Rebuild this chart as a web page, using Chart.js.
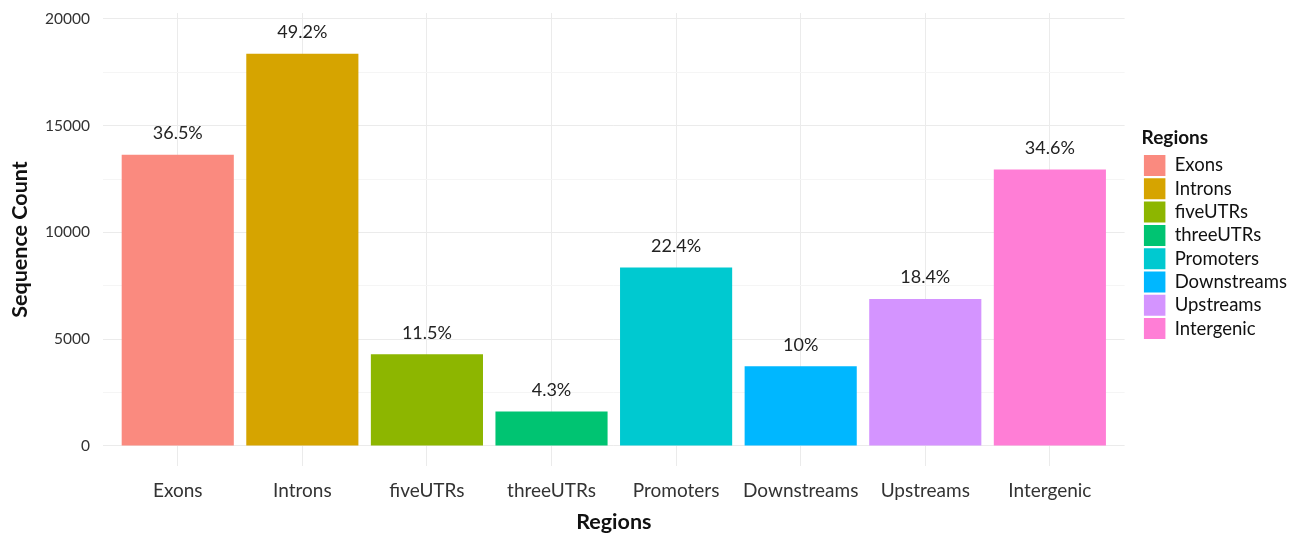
<!DOCTYPE html>
<html>
<head>
<meta charset="utf-8">
<script src="https://cdn.jsdelivr.net/npm/chart.js@4/dist/chart.umd.min.js"></script>
<style>
  html, body { margin: 0; padding: 0; background: #fff; }
  #wrap { width: 1297px; height: 535px; }
</style>
</head>
<body>
<div id="wrap"><canvas id="regions-chart" width="1297" height="535"></canvas></div>
<script>
const categories = ["Exons", "Introns", "fiveUTRs", "threeUTRs", "Promoters", "Downstreams", "Upstreams", "Intergenic"];
const counts = [13640, 18370, 4300, 1610, 8360, 3730, 6890, 12950];
const percents = ["36.5", "49.2", "11.5", "4.3", "22.4", "10", "18.4", "34.6"];
const colors = ["#FA8A7F", "#D6A400", "#8DB600", "#00C472", "#00C9D0", "#00B7FF", "#D494FF", "#FF7ED6"];
const yTicks = [0, 2500, 5000, 7500, 10000, 12500, 15000, 17500, 20000];

const FONT = "Lato, 'Open Sans', sans-serif";

// percentage text above each bar
const barLabels = {
  id: "barLabels",
  afterDatasetsDraw(chart) {
    const { ctx } = chart;
    const meta = chart.getDatasetMeta(0);
    ctx.save();
    ctx.font = "18px " + FONT;
    ctx.fillStyle = "#222";
    ctx.textAlign = "center";
    ctx.textBaseline = "alphabetic";
    meta.data.forEach((bar, i) => {
      ctx.fillText(percents[i] + "%", bar.x, bar.y - 15.5);
    });
    ctx.restore();
  }
};

new Chart(document.getElementById("regions-chart"), {
  type: "bar",
  data: {
    datasets: [{
      label: "Regions",
      data: counts.map((v, i) => ({ x: i, y: v })),
      backgroundColor: colors,
      borderWidth: 0,
      barPercentage: 0.9,
      categoryPercentage: 1.0
    }]
  },
  options: {
    responsive: false,
    animation: false,
    layout: { padding: { top: 13, right: 0, bottom: 0, left: 0 } },
    plugins: {
      tooltip: { enabled: false },
      legend: {
        position: "right",
        align: "start",
        title: {
          display: true,
          text: "Regions",
          position: "start",
          color: "#111",
          font: { family: FONT, size: 19, weight: "bold" },
          padding: { top: 115.5, bottom: 1.4 }
        },
        labels: {
          boxWidth: 21.5,
          boxHeight: 21,
          padding: 2.3,
          color: "#222",
          font: { family: FONT, size: 18.5 },
          generateLabels: () => categories.map((c, i) => ({
            text: c,
            fillStyle: colors[i],
            strokeStyle: colors[i],
            lineWidth: 0,
            hidden: false,
            index: i,
            datasetIndex: 0
          }))
        }
      }
    },
    scales: {
      x: {
        type: "linear",
        offset: false,
        min: -0.6,
        max: categories.length - 0.4,
        afterBuildTicks: (scale) => { scale.ticks = categories.map((_, i) => ({ value: i })); },
        afterFit: (scale) => {
          scale.height = 69;
          scale.paddingLeft = 0;
          scale.paddingRight = 0;
        },
        grid: { offset: false, color: "#EBEBEB", lineWidth: 1, drawTicks: false },
        border: { display: false },
        ticks: {
          padding: 13,
          color: "#333",
          font: { family: FONT, size: 19 },
          maxRotation: 0,
          autoSkip: false,
          callback: (v) => categories[v]
        },
        title: {
          display: true,
          text: "Regions",
          color: "#111",
          font: { family: FONT, size: 21.5, weight: "bold" },
          padding: { top: 0, bottom: 0 }
        }
      },
      y: {
        min: -937,
        max: 20281,
        afterBuildTicks: (scale) => { scale.ticks = yTicks.map(v => ({ value: v })); },
        afterFit: (scale) => {
          scale.width = 103;
          scale.paddingTop = 0;
          scale.paddingBottom = 0;
        },
        grid: {
          drawTicks: false,
          lineWidth: 1,
          color: (c) => (c.tick && c.tick.value % 5000 === 0) ? "#EBEBEB" : "#F5F5F5"
        },
        border: { display: false },
        ticks: {
          padding: 13,
          color: "#333",
          font: { family: FONT, size: 15.5 },
          callback: (v) => (v % 5000 === 0 ? String(v) : "")
        },
        title: {
          display: true,
          text: "Sequence Count",
          color: "#111",
          font: { family: FONT, size: 21.5, weight: "bold" },
          padding: { top: 7, bottom: 0 }
        }
      },
      // empty strip between the plot panel and the legend
      gap: {
        type: "linear",
        position: "right",
        display: true,
        afterFit: (scale) => {
          scale.width = 17;
          scale.paddingTop = 0;
          scale.paddingBottom = 0;
        },
        grid: { display: false },
        border: { display: false },
        ticks: { display: false }
      }
    }
  },
  plugins: [barLabels]
});
</script>
</body>
</html>
